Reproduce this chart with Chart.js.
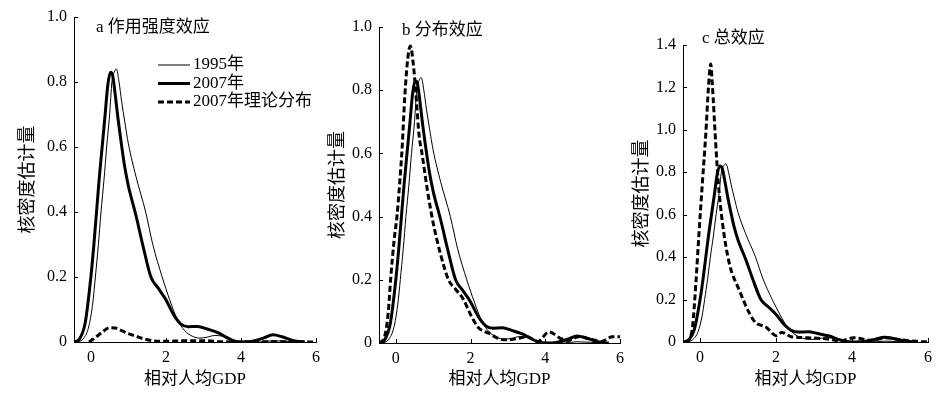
<!DOCTYPE html>
<html><head><meta charset="utf-8">
<script src="https://cdn.jsdelivr.net/npm/chart.js@4.4.0/dist/chart.umd.min.js"></script>
<style>
html,body{margin:0;padding:0;background:#fff;width:942px;height:393px;overflow:hidden}
canvas{position:absolute;top:0}
</style></head><body>
<canvas id="ca" width="326" height="393" style="left:0"></canvas>
<canvas id="cb" width="320" height="393" style="left:310px"></canvas>
<canvas id="cc" width="322" height="393" style="left:620px"></canvas>
<script>
const seriesNames = ['1995年', '2007年', '2007年理论分布'];
const panelTitles = ['a 作用强度效应', 'b 分布效应', 'c 总效应'];
const yTitle = '核密度估计量';
const xTitle = '相对人均GDP';
const xTickValues = [0, 2, 4, 6];
const yTicksAB = [0, 0.2, 0.4, 0.6, 0.8, 1.0];
const yTicksC = [0, 0.2, 0.4, 0.6, 0.8, 1.0, 1.2, 1.4];

const x1995 = [-0.35,-0.2,-0.05,0.05,0.12,0.2,0.27,0.35,0.42,0.5,0.56,0.62,0.68,0.75,0.82,0.9,1.0,1.2,1.46,1.65,1.9,2.1,2.3,2.5,2.7,2.9,3.1,3.3,3.5,3.7,4.0,4.5,4.85,5.5];
const y1995 = [0,0.01,0.05,0.12,0.2,0.3,0.4,0.5,0.6,0.7,0.8,0.83,0.84,0.8,0.74,0.68,0.61,0.51,0.4,0.3,0.2,0.13,0.07,0.035,0.018,0.012,0.015,0.02,0.018,0.008,0.001,0,0.004,0];

const x2007 = [-0.45,-0.3,-0.15,0,0.08,0.15,0.22,0.3,0.38,0.45,0.52,0.58,0.65,0.72,0.8,0.9,1.0,1.2,1.4,1.6,1.8,2.0,2.2,2.4,2.6,2.85,3.1,3.4,3.6,3.8,4.0,4.3,4.6,4.85,5.1,5.4,5.7];
const y2007 = [0,0.01,0.06,0.2,0.3,0.4,0.5,0.6,0.7,0.79,0.83,0.82,0.76,0.69,0.62,0.54,0.48,0.39,0.29,0.2,0.165,0.13,0.085,0.055,0.047,0.048,0.04,0.028,0.015,0.004,0,0.002,0.012,0.022,0.016,0.004,0];

const xTheoryA = [-0.05,0.1,0.3,0.5,0.65,0.8,1.0,1.2,1.4,1.7,2.0,2.5,3.0,3.5,4.0,5.0,6.0];
const yTheoryA = [0,0.012,0.03,0.044,0.043,0.036,0.026,0.018,0.01,0.003,0.002,0.004,0.004,0.001,0,0.001,0];

const xTheoryB = [-0.45,-0.3,-0.2,-0.14,-0.05,0.03,0.1,0.17,0.24,0.32,0.39,0.47,0.55,0.62,0.7,0.85,1.0,1.2,1.41,1.6,1.8,2.0,2.2,2.5,2.8,3.0,3.3,3.5,3.8,4.1,4.4,4.6,4.9,5.2,5.5,5.8,6.0];
const yTheoryB = [0,0.02,0.1,0.2,0.32,0.4,0.5,0.62,0.78,0.9,0.94,0.88,0.77,0.66,0.6,0.48,0.38,0.28,0.2,0.17,0.14,0.09,0.05,0.03,0.012,0.01,0.015,0.02,0.005,0.035,0.015,0.008,0.02,0.012,0.005,0.02,0.02];

const xTheoryC = [-0.4,-0.3,-0.2,-0.11,-0.03,0.06,0.15,0.22,0.28,0.32,0.41,0.48,0.59,0.77,1.03,1.3,1.47,1.74,2.0,2.15,2.4,2.8,3.3,3.7,4.05,4.5,4.9,5.3,5.7,6.0];
const yTheoryC = [0,0.01,0.07,0.28,0.51,0.75,0.98,1.2,1.31,1.22,0.94,0.75,0.56,0.37,0.245,0.135,0.09,0.07,0.03,0.045,0.025,0.02,0.015,0.005,0.02,0.008,0.02,0.01,0.003,0];

const FONT = '"Liberation Serif", "Noto Sans CJK SC", serif';
const pts = (xs, ys) => xs.map((x, i) => ({x: x, y: ys[i]}));

const innerTicks = {
  id: 'innerTicks',
  afterDatasetsDraw(chart) {
    const ctx = chart.ctx, xs = chart.scales.x, ys = chart.scales.y;
    ctx.save();
    ctx.strokeStyle = '#000'; ctx.lineWidth = 1;
    ctx.beginPath();
    xs.ticks.forEach(t => {
      const px = Math.round(xs.getPixelForValue(t.value)) + 0.5;
      ctx.moveTo(px, xs.top); ctx.lineTo(px, xs.top - 4);
    });
    ys.ticks.forEach(t => {
      if (t.value === 0) return;
      const py = Math.round(ys.getPixelForValue(t.value)) + 0.5;
      ctx.moveTo(ys.right, py); ctx.lineTo(ys.right + 4, py);
    });
    ctx.stroke();
    ctx.restore();
  }
};

const panelText = {
  id: 'panelText',
  afterDraw(chart, args, opts) {
    if (!opts || !opts.text) return;
    const ctx = chart.ctx;
    ctx.save();
    ctx.fillStyle = '#000';
    ctx.strokeStyle = '#000';
    ctx.font = '17px ' + FONT;
    ctx.textBaseline = 'middle';
    ctx.textAlign = 'left';
    ctx.fillText(opts.text, opts.x, opts.y);
    if (opts.legend) {
      const L = opts.legend;
      chart.data.datasets.forEach((ds, i) => {
        const y = L.y + i * L.gap;
        ctx.beginPath();
        ctx.lineWidth = ds.borderWidth;
        ctx.setLineDash(ds.borderDash || []);
        ctx.moveTo(L.x, y); ctx.lineTo(L.x + L.len, y);
        ctx.stroke();
        ctx.setLineDash([]);
        ctx.fillText(ds.label, L.x + L.len + 3, y);
      });
    }
    ctx.restore();
  }
};

function makeChart(id, theory, yTicks, yMax, geom) {
  const datasets = [
    {label: seriesNames[0], data: pts(x1995, y1995), borderColor: '#000', borderWidth: 1},
    {label: seriesNames[1], data: pts(x2007, y2007), borderColor: '#000', borderWidth: 3},
    {label: seriesNames[2], data: theory, borderColor: '#000', borderWidth: 3, borderDash: [6, 3]}
  ];
  datasets.forEach(d => { d.pointRadius = 0; d.cubicInterpolationMode = 'monotone'; d.fill = false; });
  return new Chart(document.getElementById(id), {
    type: 'line',
    data: {datasets: datasets},
    plugins: [innerTicks, panelText],
    options: {
      responsive: false, animation: false, devicePixelRatio: 1,
      layout: {padding: {top: geom.top, right: geom.right, left: 0, bottom: 0}},
      plugins: {
        legend: {display: false}, tooltip: {enabled: false},
        panelText: geom.label
      },
      scales: {
        x: {
          type: 'linear', min: -0.45, max: 6,
          afterBuildTicks: s => { s.ticks = xTickValues.map(v => ({value: v})); },
          afterFit: s => { s.height = geom.xh; },
          grid: {display: false, drawTicks: false},
          border: {display: true, color: '#000', width: 1},
          ticks: {color: '#000', padding: 6, font: {family: FONT, size: 16}, maxRotation: 0, callback: v => String(v)},
          title: {display: true, text: xTitle, color: '#000', font: {family: FONT, size: 17}, padding: {top: 0, bottom: 3}}
        },
        y: {
          type: 'linear', min: 0, max: yMax,
          afterBuildTicks: s => { s.ticks = yTicks.map(v => ({value: v})); },
          afterFit: s => { s.width = geom.yw; },
          grid: {display: false, drawTicks: false},
          border: {display: true, color: '#000', width: 1},
          ticks: {color: '#000', padding: 7, font: {family: FONT, size: 16}, callback: v => v === 0 ? '0' : v.toFixed(1)},
          title: {display: true, text: yTitle, color: '#000', font: {family: FONT, size: 18}, padding: {top: geom.yt, bottom: 0}}
        }
      }
    }
  });
}

makeChart('ca', pts(xTheoryA, yTheoryA), yTicksAB, 1.0,
  {top: 17, right: 8, xh: 51, yw: 74, yt: 17.5,
   label: {text: panelTitles[0], x: 96, y: 28, legend: {x: 158, y: 65, gap: 18.5, len: 32}}});
makeChart('cb', pts(xTheoryB, yTheoryB), yTicksAB, 1.0,
  {top: 27, right: 8, xh: 50, yw: 69, yt: 17,
   label: {text: panelTitles[1], x: 92, y: 31}});
makeChart('cc', pts(xTheoryC, yTheoryC), yTicksC, 1.4,
  {top: 45, right: 14, xh: 51, yw: 63, yt: 11,
   label: {text: panelTitles[2], x: 82, y: 39}});
</script>
</body></html>
